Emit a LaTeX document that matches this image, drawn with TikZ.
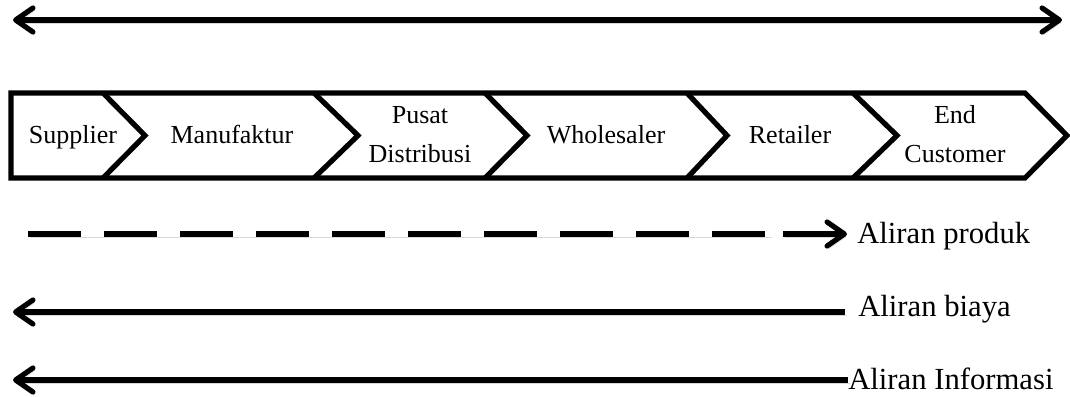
\documentclass[tikz,border=0pt]{standalone}
\usepackage{fontspec}
\setmainfont{Liberation Serif}
\usetikzlibrary{arrows.meta}
\tikzset{
  px/.style={x=0.75pt,y=-0.75pt},
  thick line/.style={line width=3.9pt},
  barb/.style={-{Straight Barb[length=13pt,width=18pt,line cap=round,line join=round]}},
  barbboth/.style={{Straight Barb[length=13pt,width=18pt,line cap=round,line join=round]}-{Straight Barb[length=13pt,width=18pt,line cap=round,line join=round]}},
  barbleft/.style={{Straight Barb[length=13pt,width=18pt,line cap=round,line join=round]}-},
  shade/.style={preaction={draw=black!15,transform canvas={shift={(1.2pt,-2.2pt)}}}},
  chev/.style={line width=3.9pt,line join=miter},
  stxt/.style={font=\fontsize{19.5}{29}\selectfont,align=center,inner sep=0pt,anchor=base},
  ltxt/.style={font=\fontsize{23}{26}\selectfont,inner sep=0pt,anchor=base west}
}
\begin{document}
\begin{tikzpicture}[px]
\useasboundingbox (0,0) rectangle (1070,396);
% top double arrow
\coordinate (tl) at (13,20);
\coordinate (tr) at (1062,20);
\draw[thick line,shade,barbboth] (tl) -- (tr);
% chevron band
\draw[chev] (11,93) -- (1025,93) -- (1067,135.5) -- (1025,178) -- (11,178) -- cycle;
\foreach \a/\b in {103/145,314/358,485/527,687/727,853/897}{
  \draw[chev] (\a,93) -- (\b,135.5) -- (\a,178);
}
\node[stxt] (s1) at (73,143) {Supplier};
\node[stxt] (s2) at (232,143) {Manufaktur};
\node[stxt] (s3a) at (420,123) {Pusat};
\node[stxt] (s3b) at (420,162) {Distribusi};
\node[stxt] (s4) at (606,143) {Wholesaler};
\node[stxt] (s5) at (790,143) {Retailer};
\node[stxt] (s6a) at (955,123) {End};
\node[stxt] (s6b) at (955,162) {Customer};
% Aliran produk
\node[ltxt] (lp) at (857,243) {Aliran produk};
\coordinate (p0) at (28,234);
\coordinate (p1) at (770,234);
\coordinate (p2) at (783,234);
\coordinate (p3) at (847,234);
\draw[thick line,shade,dash pattern=on 40pt off 17pt] (p0) -- (p1);
\draw[thick line,shade,barb] (p2) -- (p3);
% Aliran biaya
\node[ltxt] (lb) at (858,316) {Aliran biaya};
\coordinate (b0) at (13,312);
\coordinate (b1) at (845,312);
\draw[thick line,shade,barbleft] (b0) -- (b1);
% Aliran Informasi
\node[ltxt] (li) at (848,389) {Aliran Informasi};
\coordinate (i0) at (13,380);
\coordinate (i1) at (848,380);
\draw[thick line,shade,barbleft] (i0) -- (i1);
\end{tikzpicture}
\end{document}
